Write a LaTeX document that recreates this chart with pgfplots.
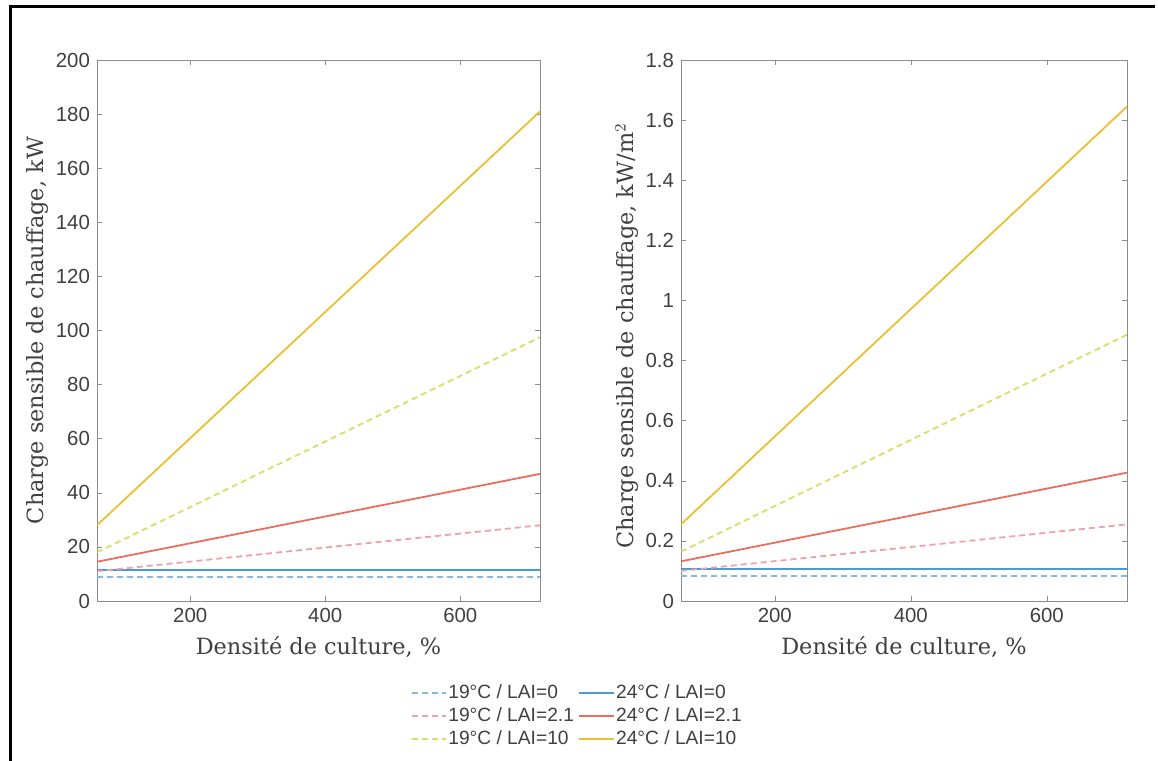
\documentclass[border=0pt]{standalone}
\usepackage{pgfplots}
\pgfplotsset{compat=1.18}
\usepackage{fontspec}
\setmainfont{DejaVu Serif}
\newfontfamily\sansf{Liberation Sans}
\definecolor{bA}{HTML}{86B8E2}
\definecolor{bB}{HTML}{4A9AD6}
\definecolor{rA}{HTML}{F0A0AC}
\definecolor{rB}{HTML}{EC6C5E}
\definecolor{yA}{HTML}{D6DE64}
\definecolor{yB}{HTML}{E8C030}
\pgfplotsset{
  myax/.style={
    scale only axis,
    xmin=62, xmax=718, xtick={200,400,600},
    tick align=inside, major tick length=2.5pt,
    axis line style={black!45}, tick style={black!45},
    ticklabel style={font=\sansf\fontsize{10.2}{12}\selectfont, text=black!75},
    /pgf/number format/assume math mode=true,
    label style={font=\fontsize{11.2}{13}\selectfont, text=black!75},
    every axis plot/.append style={line width=0.9pt},
    dsh/.style={dash pattern=on 3pt off 2pt},
  }
}
\begin{document}
\begin{tikzpicture}
\path[use as bounding box] (0pt,0pt) rectangle (579pt,380.5pt);
\draw[line width=1.5pt] (4.25pt,377pt) -- (577.5pt,377pt);
\draw[line width=1.5pt] (5pt,377.75pt) -- (5pt,0pt);
\begin{axis}[myax, at={(48.5pt,80pt)}, anchor=south west,
  width=221.5pt, height=270.5pt,
  ymin=0, ymax=200, ytick={0,20,...,200},
  xlabel={Densité de culture, \%},
  ylabel={Charge sensible de chauffage, kW},
  ylabel style={at={(axis description cs:-0.1354,0.5)}, anchor=center}]
\addplot[bA, dsh] coordinates {(62,9) (718,9)};
\addplot[bB] coordinates {(62,11.5) (718,11.5)};
\addplot[rA, dsh] coordinates {(62,11) (718,28)};
\addplot[rB] coordinates {(62,14.5) (718,47)};
\addplot[yA, dsh] coordinates {(62,18) (718,97.5)};
\addplot[yB] coordinates {(62,28) (718,181)};
\end{axis}
\begin{axis}[myax, at={(340.5pt,80pt)}, anchor=south west,
  width=223pt, height=270.5pt,
  ymin=0, ymax=1.8, ytick={0,0.2,0.4,0.6,0.8,1,1.2,1.4,1.6,1.8},
  xlabel={Densité de culture, \%},
  ylabel={Charge sensible de chauffage, kW/m$^{2}$},
  ylabel style={at={(axis description cs:-0.121,0.49)}, anchor=center},
  legend columns=2, legend cell align=left,
  legend style={at={(-0.233,-0.2126)}, anchor=center, draw=none, fill=none,
    font=\sansf\fontsize{9.6}{11.5}\selectfont, text=black!75,
    nodes={inner sep=0.8pt},
    /tikz/every odd column/.append style={column sep=0pt},
    /tikz/every even column/.append style={column sep=1.5pt},
    row sep=1.5pt}]
\addplot[bA, dsh] coordinates {(62,0.082) (718,0.082)};
\addlegendentry{19°C / LAI=0}
\addplot[color=bB, line width=0.9pt] coordinates {(62,0.106) (400,0.106) (718,0.106)};
\addlegendentry{24°C / LAI=0}
\addplot[rA, dsh] coordinates {(62,0.1) (718,0.255)};
\addlegendentry{19°C / LAI=2.1}
\addplot[rB] coordinates {(62,0.132) (718,0.427)};
\addlegendentry{24°C / LAI=2.1}
\addplot[yA, dsh] coordinates {(62,0.164) (718,0.886)};
\addlegendentry{19°C / LAI=10}
\addplot[yB] coordinates {(62,0.255) (718,1.645)};
\addlegendentry{24°C / LAI=10}
\end{axis}
\end{tikzpicture}
\end{document}
